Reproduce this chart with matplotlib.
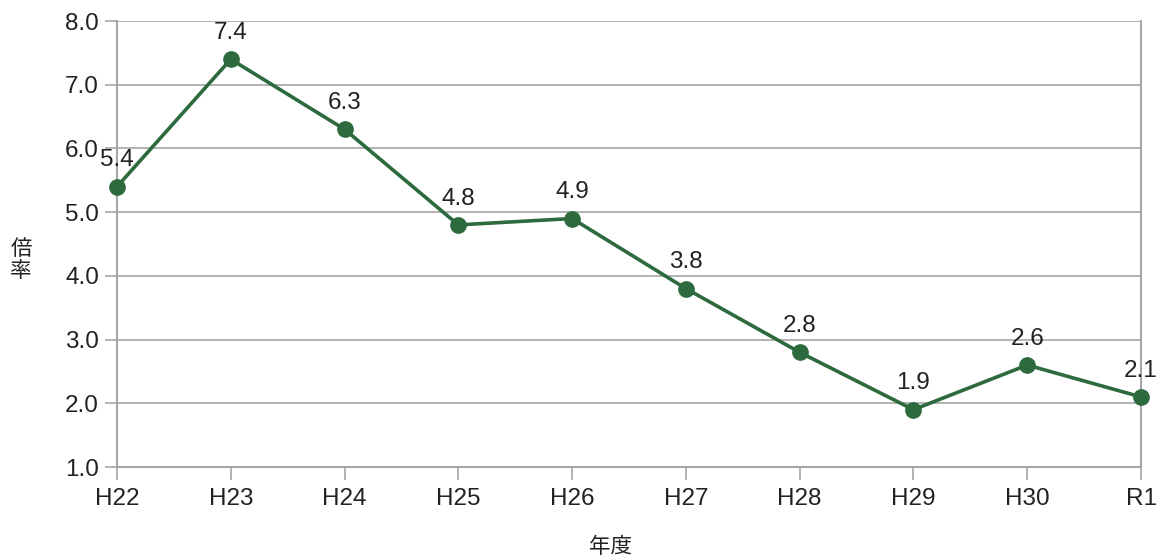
import matplotlib.pyplot as plt

plt.rcParams['font.family'] = ['Liberation Sans', 'Noto Sans CJK JP', 'DejaVu Sans']

years = ['H22', 'H23', 'H24', 'H25', 'H26', 'H27', 'H28', 'H29', 'H30', 'R1']
ratio = [5.4, 7.4, 6.3, 4.8, 4.9, 3.8, 2.8, 1.9, 2.6, 2.1]
yticks = [1.0, 2.0, 3.0, 4.0, 5.0, 6.0, 7.0, 8.0]

color = '#2d6a3e'
grid = '#a6a6a6'
txt = '#222222'

fig = plt.figure(figsize=(11.64, 5.57), dpi=100)
ax = fig.add_axes([117/1164, 1-467/557, (1141-117)/1164, (467-21)/557])

x = list(range(len(years)))
ax.plot(x, ratio, '-', color=color, lw=2.6, marker='o', ms=11, zorder=3, clip_on=False)

# wartosci nad punktami
for xi, v in zip(x, ratio):
    ax.annotate(f'{v:.1f}', (xi, v), xytext=(0, 11), textcoords='offset points',
                ha='center', va='bottom', fontsize=17.5, color=txt)

ax.set_xlim(0, len(years)-1)
ax.set_ylim(1.0, 8.0)
ax.set_xticks(x)
ax.set_xticklabels(years)
ax.set_yticks(yticks)
ax.set_yticklabels([f'{t:.1f}' for t in yticks])
ax.grid(axis='y', color=grid, lw=1.2)
ax.set_axisbelow(True)

ax.spines['top'].set_visible(False)
for s in ['left', 'right', 'bottom']:
    ax.spines[s].set_color(grid)
    ax.spines[s].set_linewidth(1.5)

ax.tick_params(axis='both', colors=grid, length=9, width=1.2, labelsize=17.5, labelcolor=txt)
ax.tick_params(axis='y', pad=4)
ax.tick_params(axis='x', pad=6)

fig.text(21/1164, 1-260/557, '倍\n率', ha='center', va='center', fontsize=15.5,
         family=['Noto Sans CJK JP'], color=txt, linespacing=1.05)
fig.text(610/1164, 1-547/557, '年度', ha='center', va='center', fontsize=15.5,
         family=['Noto Sans CJK JP'], color=txt)

plt.savefig('out.png', dpi=100)
